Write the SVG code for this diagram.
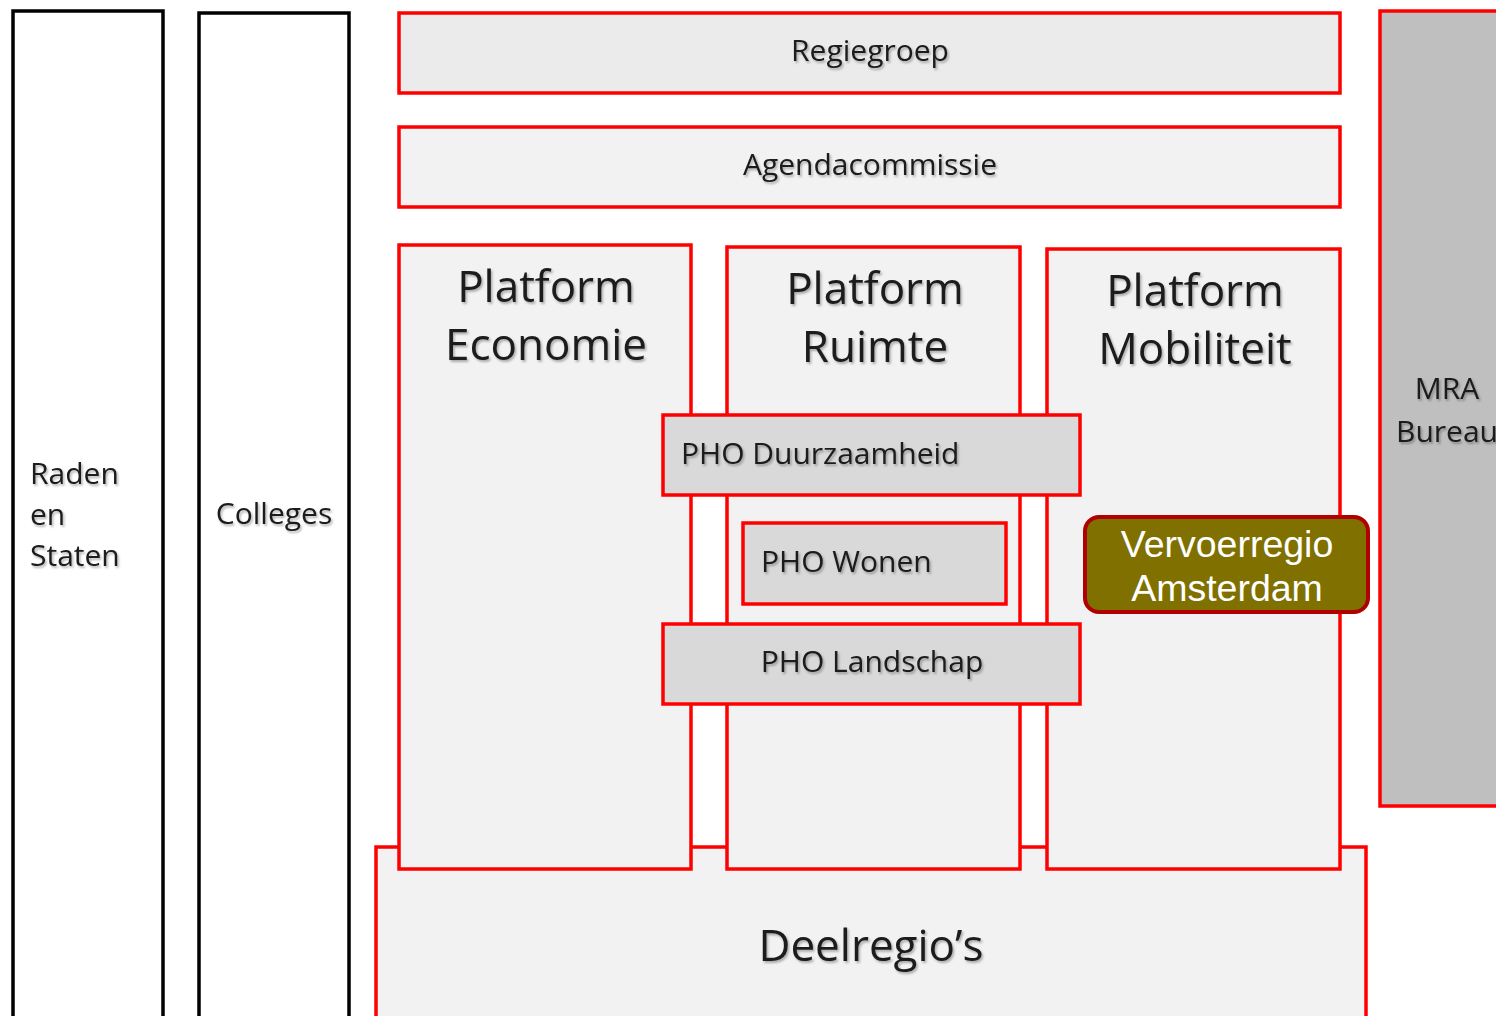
<svg xmlns="http://www.w3.org/2000/svg" width="1496" height="1016" viewBox="0 0 1496 1016">
<defs>
<filter id="sh" x="-10%" y="-30%" width="130%" height="160%">
<feDropShadow dx="1.5" dy="2" stdDeviation="1.2" flood-color="#000" flood-opacity="0.3"/>
</filter>
<style>
.blk{fill:#fff;stroke:#000;stroke-width:3.5}
.red{stroke:#ff0000;stroke-width:3.5}
.l1{fill:#ebebeb}
.l2{fill:#f2f2f2}
.l3{fill:#d9d9d9}
.gr{fill:#bfbfbf}
.t{font-family:"Open Sans","Noto Sans",sans-serif;fill:#1a1a1a;filter:url(#sh)}
.big{font-size:44px}
.mid{font-size:30px}
.c{text-anchor:middle}
.vt{font-family:"Liberation Sans",Arial,sans-serif;font-size:37.5px;fill:#fff;text-anchor:middle}
</style>
</defs>
<rect width="1496" height="1016" fill="#fff"/>
<g id="raden">
<rect class="blk" x="13" y="11" width="150" height="1015"/>
<text class="t mid" x="30" y="484">Raden</text>
<text class="t mid" x="30" y="525">en</text>
<text class="t mid" x="30" y="566">Staten</text>
</g>
<g id="colleges">
<rect class="blk" x="199" y="13" width="150" height="1015"/>
<text class="t mid c" x="274" y="524">Colleges</text>
</g>
<g id="regiegroep">
<rect class="red l1" x="399" y="13" width="941" height="80"/>
<text class="t mid c" x="870" y="61">Regiegroep</text>
</g>
<g id="agendacommissie">
<rect class="red l2" x="399" y="127" width="941" height="80"/>
<text class="t mid c" x="870" y="175">Agendacommissie</text>
</g>
<g id="mra">
<rect class="red gr" x="1380" y="11" width="140" height="795"/>
<text class="t mid c" x="1447" y="399">MRA</text>
<text class="t mid c" x="1447" y="442">Bureau</text>
</g>
<g id="deelregios">
<rect class="red l2" x="376" y="847" width="990" height="180"/>
<text class="t big c" x="871" y="961">Deelregio’s</text>
</g>
<g id="platform-economie">
<rect class="red l2" x="399" y="245" width="292" height="624"/>
<text class="t big c" x="546" y="302">Platform</text>
<text class="t big c" x="546" y="360">Economie</text>
</g>
<g id="platform-ruimte">
<rect class="red l2" x="727" y="247" width="293" height="622"/>
<text class="t big c" x="875" y="304">Platform</text>
<text class="t big c" x="875" y="362">Ruimte</text>
</g>
<g id="platform-mobiliteit">
<rect class="red l2" x="1047" y="249" width="293" height="620"/>
<text class="t big c" x="1195" y="306">Platform</text>
<text class="t big c" x="1195" y="364">Mobiliteit</text>
</g>
<g id="pho-duurzaamheid">
<rect class="red l3" x="663" y="415" width="417" height="80"/>
<text class="t mid" x="681" y="464">PHO Duurzaamheid</text>
</g>
<g id="pho-wonen">
<rect class="red l3" x="743" y="523" width="263" height="81"/>
<text class="t mid" x="761" y="572">PHO Wonen</text>
</g>
<g id="pho-landschap">
<rect class="red l3" x="663" y="624" width="417" height="80"/>
<text class="t mid c" x="872" y="672">PHO Landschap</text>
</g>
<g id="vervoerregio">
<rect x="1085" y="517" width="283" height="95" rx="14" fill="#7f7000" stroke="#b00000" stroke-width="4"/>
<text class="vt" x="1227" y="557">Vervoerregio</text>
<text class="vt" x="1227" y="601">Amsterdam</text>
</g>
<g id="connectors"/>
</svg>
